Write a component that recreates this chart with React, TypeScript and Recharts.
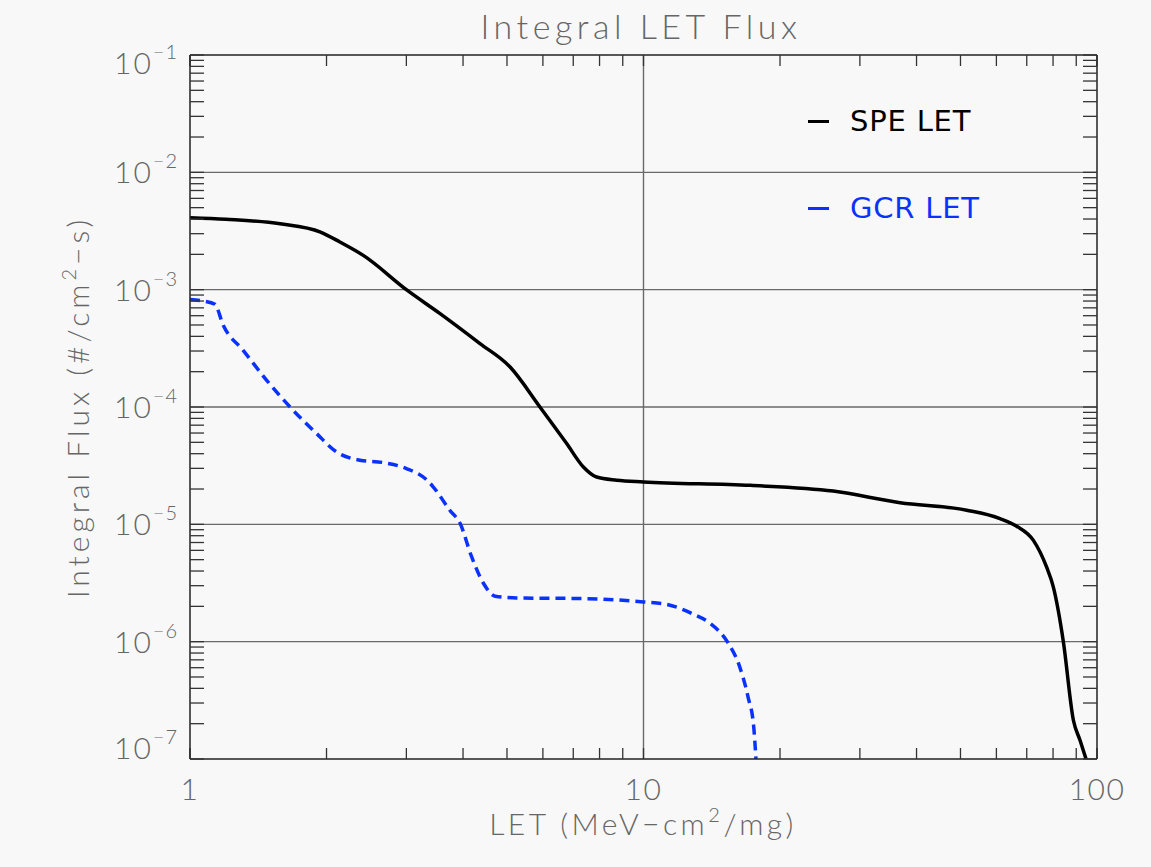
import React from 'react';
import { LineChart, Line, XAxis, YAxis, ReferenceLine, Legend } from 'recharts';

// values (LET in MeV-cm2/mg, flux in #/cm2-s)
const speLet = [1, 1.2, 1.58, 1.94, 2.14, 2.41, 3.01, 3.56, 4.36, 5.08, 5.91, 6.77, 7.37, 7.88, 8.73, 10.0, 17.2, 26.2, 36.8, 51.6, 61.1, 66.5, 72.4, 77.4, 80.1, 84.3, 88.7, 91.7, 94.6];
const speFlux = [4.1e-3, 3.98e-3, 3.65e-3, 3.1e-3, 2.55e-3, 1.96e-3, 9.9e-4, 6.25e-4, 3.47e-4, 2.19e-4, 1.0e-4, 4.88e-5, 3.08e-5, 2.53e-5, 2.38e-5, 2.3e-5, 2.15e-5, 1.92e-5, 1.53e-5, 1.32e-5, 1.12e-5, 9.64e-6, 7.3e-6, 4.33e-6, 2.93e-6, 1.0e-6, 2.14e-7, 1.45e-7, 1.0e-7];

const gcrLet = [1, 1.07, 1.135, 1.184, 1.31, 1.476, 1.662, 1.902, 2.105, 2.37, 2.67, 3.0, 3.33, 3.44, 3.74, 3.94, 4.18, 4.44, 4.71, 5.25, 7.37, 10.0, 11.25, 12.9, 14.0, 15.3, 16.3, 17.0, 17.5, 17.7];
const gcrFlux = [8.26e-4, 8.0e-4, 7.5e-4, 4.97e-4, 3.04e-4, 1.69e-4, 1.0e-4, 5.93e-5, 4.14e-5, 3.52e-5, 3.36e-5, 2.99e-5, 2.38e-5, 2.08e-5, 1.32e-5, 1.02e-5, 5.27e-6, 3.13e-6, 2.44e-6, 2.36e-6, 2.33e-6, 2.18e-6, 2.08e-6, 1.71e-6, 1.44e-6, 1.0e-6, 6.1e-7, 3.39e-7, 1.88e-7, 1.0e-7];

const xLabels = [1, 10, 100];
const yExponents = [-7, -6, -5, -4, -3, -2, -1];
const seriesNames = ['SPE LET', 'GCR LET'];
const seriesColors = ['#000000', '#0a32ff'];

const speData = speLet.map((v, i) => ({ let: v, flux: speFlux[i] }));
const gcrData = gcrLet.map((v, i) => ({ let: v, flux: gcrFlux[i] }));

const yMajor = yExponents.map(e => Math.pow(10, e));

// major + minor tick positions (1..9 within each decade)
const yTicks: number[] = [];
yMajor.forEach((v, i) => {
  if (i === yMajor.length - 1) { yTicks.push(v); return; }
  for (let m = 1; m < 10; m++) yTicks.push(m * v);
});
const xTicks: number[] = [];
xLabels.forEach((v, i) => {
  if (i === xLabels.length - 1) { xTicks.push(v); return; }
  for (let m = 1; m < 10; m++) xTicks.push(m * v);
});

const FONT = 'Lato, "DejaVu Sans", sans-serif';
const TEXT = '#666';

const isDecade = (v: number) => {
  const lg = Math.log10(v);
  return Math.abs(lg - Math.round(lg)) < 1e-6;
};

const YTick = (props: any) => {
  const { x, y, payload } = props;
  if (!isDecade(payload.value)) return <g />;
  const exp = Math.round(Math.log10(payload.value));
  const shift = exp === yExponents[yExponents.length - 1] ? 19 : exp === yExponents[0] ? 0 : 11;
  return (
    <text x={x - 26} y={y + shift} textAnchor="end" fill={TEXT} fontFamily={FONT} fontWeight={300}>
      <tspan fontSize={30} letterSpacing={2}>10</tspan>
      <tspan fontSize={20} dy={-15} letterSpacing={1}>{'\u2212' + Math.abs(exp)}</tspan>
    </text>
  );
};

const XTick = (props: any) => {
  const { x, y, payload } = props;
  if (!isDecade(payload.value)) return <g />;
  return (
    <text x={x} y={y + 52} textAnchor="middle" fill={TEXT} fontFamily={FONT} fontWeight={300} fontSize={30} letterSpacing={1.5}>
      {payload.value}
    </text>
  );
};

const LegendBox = ({ payload }: any) => {
  const items = [...(payload || [])].sort(
    (a: any, b: any) => seriesNames.indexOf(a.value) - seriesNames.indexOf(b.value)
  );
  return (
    <div>
      {items.map((p: any) => (
        <div key={p.value} style={{ display: 'flex', alignItems: 'center', height: 40, marginBottom: 47 }}>
          <span style={{ display: 'inline-block', width: 21, height: 3, background: p.color, marginRight: 21 }} />
          <span style={{ color: p.color, fontSize: 29, fontFamily: '"DejaVu Sans", sans-serif', letterSpacing: 0.8 }}>
            {p.value}
          </span>
        </div>
      ))}
    </div>
  );
};

const App: React.FC = () => {
  return (
    <div style={{ position: 'absolute', left: 0, top: 0, width: 1151, height: 867, background: '#f8f8f8', overflow: 'hidden' }}>
      <div style={{ position: 'absolute', left: 641, top: 25, transform: 'translate(-50%, -50%)', fontFamily: FONT, fontWeight: 300, fontSize: 34, letterSpacing: 4.5, color: TEXT, whiteSpace: 'nowrap' }}>
        Integral LET Flux
      </div>

      <LineChart width={1151} height={867} data={speData} margin={{ top: 54, right: 53, bottom: 48, left: 0 }}>
        <XAxis
          xAxisId="b" dataKey="let" type="number" scale="log" domain={[1, 100]} allowDataOverflow
          ticks={xTicks} interval={0} height={60} tickSize={-11} tickMargin={0}
          axisLine={{ stroke: '#222', strokeWidth: 1.5 }} tickLine={{ stroke: '#333', strokeWidth: 1.3 }}
          tick={<XTick />}
        />
        <XAxis
          xAxisId="t" orientation="top" dataKey="let" type="number" scale="log" domain={[1, 100]} allowDataOverflow
          ticks={xTicks} interval={0} height={1} tickSize={-11} tickFormatter={() => ''}
          axisLine={{ stroke: '#222', strokeWidth: 1.5 }} tickLine={{ stroke: '#333', strokeWidth: 1.3 }}
        />
        <YAxis
          yAxisId="l" dataKey="flux" type="number" scale="log" domain={[1e-7, 1e-1]} allowDataOverflow
          ticks={yTicks} interval={0} width={190} tickSize={-14} tickMargin={0}
          axisLine={{ stroke: '#222', strokeWidth: 1.5 }} tickLine={{ stroke: '#333', strokeWidth: 1.3 }}
          tick={<YTick />}
        />
        <YAxis
          yAxisId="r" orientation="right" type="number" scale="log" domain={[1e-7, 1e-1]} allowDataOverflow
          ticks={yTicks} interval={0} width={1} tickSize={-14} tickFormatter={() => ''}
          axisLine={{ stroke: '#222', strokeWidth: 1.5 }} tickLine={{ stroke: '#333', strokeWidth: 1.3 }}
        />

        {yMajor.slice(1, -1).map(v => (
          <ReferenceLine key={'h' + v} xAxisId="b" yAxisId="l" y={v} stroke="#6a6a6a" strokeWidth={1.4} />
        ))}
        {xLabels.slice(1, -1).map(v => (
          <ReferenceLine key={'v' + v} xAxisId="b" yAxisId="l" x={v} stroke="#6a6a6a" strokeWidth={1.4} />
        ))}

        <Line
          xAxisId="b" yAxisId="l" data={speData} dataKey="flux" name={seriesNames[0]}
          type="monotone" stroke={seriesColors[0]} strokeWidth={3.5} dot={false} isAnimationActive={false}
        />
        <Line
          xAxisId="b" yAxisId="l" data={gcrData} dataKey="flux" name={seriesNames[1]}
          type="monotone" stroke={seriesColors[1]} strokeWidth={3.5} strokeDasharray="10 6" dot={false} isAnimationActive={false}
        />

        <Legend
          layout="vertical" align="center" verticalAlign="middle"
          wrapperStyle={{ position: 'absolute', left: 808, top: 101, width: 240, height: 'auto' }}
          content={<LegendBox />}
        />
      </LineChart>

      <div style={{ position: 'absolute', left: 77, top: 407, transform: 'translate(-50%, -50%) rotate(-90deg)', fontFamily: FONT, fontWeight: 300, fontSize: 30, letterSpacing: 4, color: TEXT, whiteSpace: 'nowrap' }}>
        Integral Flux (#/cm<span style={{ fontSize: 20, position: 'relative', top: -13 }}>2</span>{'\u2212'}s)
      </div>
      <div style={{ position: 'absolute', left: 643, top: 823, transform: 'translate(-50%, -50%)', fontFamily: FONT, fontWeight: 300, fontSize: 30, letterSpacing: 3.5, color: TEXT, whiteSpace: 'nowrap' }}>
        LET (MeV{'\u2212'}cm<span style={{ fontSize: 20, position: 'relative', top: -13 }}>2</span>/mg)
      </div>
    </div>
  );
};

export default App;
